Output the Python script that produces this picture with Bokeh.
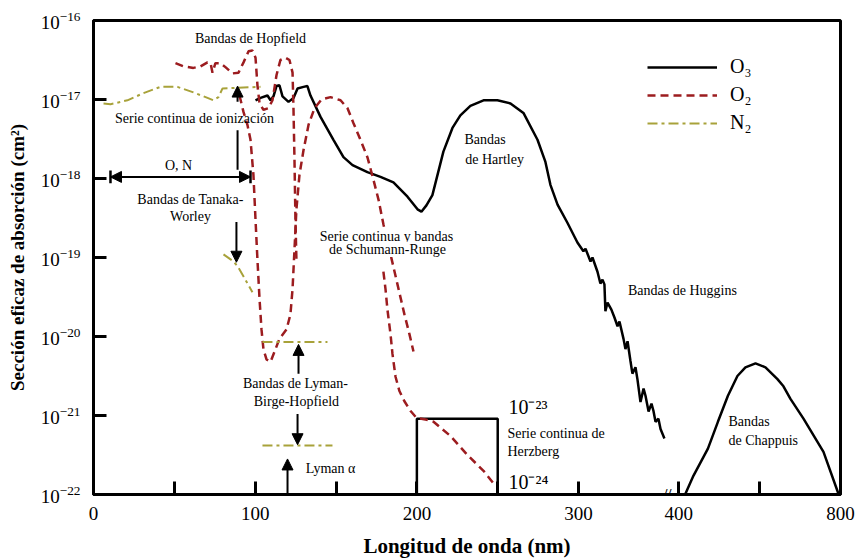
import numpy as np
from bokeh.plotting import figure
from bokeh.models import (FixedTicker, CustomJSTickFormatter, LogTickFormatter, Label, Arrow,
                          NormalHead, Legend, LegendItem)
from bokeh.embed import file_html
from bokeh.resources import INLINE

SERIF = "Liberation Serif"

# ---------------- data: wavelength (nm) and log10 of cross-section (cm^2) ----------------
o3_uv_nm = [100.2, 103.3, 107.6, 109.5, 111.3, 113.2, 115.0, 116.9, 120.6, 123.7, 126.2, 129.9,
            132.3, 134.2, 140.4, 148.4, 154.6, 160.2, 169.4, 177.5, 185.5, 194.2, 200.4, 202.8,
            205.9, 209.6, 216.4, 222.0, 226.9, 233.1, 241.2, 249.8, 257.9, 265.9, 274.6, 279.5,
            282.6, 287.0, 293.1, 299.3, 303.0, 304.3, 307.4, 308.6, 311.7, 313.5, 314.8, 316.0,
            316.6, 317.9, 320.3, 322.2, 324.1, 325.3, 327.8, 329.0, 330.3, 332.1, 333.3, 335.2,
            336.4, 338.3, 340.2, 341.4, 343.3, 345.1, 346.3, 347.6, 349.4, 350.7, 353.1]
o3_uv_log = [-17.01, -16.98, -16.95, -17.01, -16.96, -16.83, -16.82, -16.96, -17.03, -16.98, -16.86, -16.84,
             -16.83, -16.95, -17.22, -17.51, -17.73, -17.83, -17.92, -17.98, -18.05, -18.23, -18.39, -18.42,
             -18.34, -18.21, -17.66, -17.36, -17.20, -17.08, -17.01, -17.01, -17.05, -17.17, -17.51, -17.79,
             -18.08, -18.33, -18.56, -18.81, -18.92, -18.89, -19.05, -19.00, -19.18, -19.33, -19.28, -19.34,
             -19.68, -19.57, -19.66, -19.76, -19.87, -19.81, -20.03, -20.16, -20.06, -20.31, -20.47, -20.39,
             -20.54, -20.83, -20.66, -20.75, -20.95, -20.85, -20.94, -21.08, -21.04, -21.17, -21.29]
o3_vis_nm = [416.4, 436.4, 472.0, 496.7, 521.5, 545.0, 564.8, 589.7, 614.4, 644.0, 658.9, 676.2,
             708.4, 757.9, 794.9]
o3_vis_log = [-21.99, -21.76, -21.42, -21.08, -20.75, -20.50, -20.39, -20.34, -20.39, -20.54, -20.63, -20.79,
              -21.04, -21.46, -21.99]

o2_hopfield_nm = [50.7, 55.7, 61.8, 66.2, 70.5, 72.4, 73.6, 75.4, 78.5, 81.6, 86.0, 89.7, 92.8, 95.9,
                  98.3, 100.2, 101.4, 102.7, 105.1, 108.2, 110.7, 113.2, 115.6, 118.7, 121.2, 123.1,
                  123.7, 124.3, 124.9, 125.5]
o2_hopfield_log = [-16.54, -16.58, -16.60, -16.58, -16.53, -16.54, -16.66, -16.54, -16.54, -16.59, -16.67,
                   -16.66, -16.53, -16.39, -16.38, -16.47, -16.82, -17.05, -17.13, -17.11, -17.01, -16.69,
                   -16.50, -16.47, -16.50, -16.66, -17.13, -17.76, -18.52, -19.03]
o2_src_nm = [90.3, 92.8, 95.2, 97.1, 98.9, 100.2, 101.4, 102.7, 103.9, 105.1, 107.0, 109.5, 112.0, 115.0,
             119.4, 121.8, 123.1, 124.3, 125.5, 127.4, 129.9, 133.0, 136.7, 141.0, 146.6, 152.8, 157.1,
             160.8, 165.1, 169.4, 173.2, 176.3, 179.3, 183.7, 188.0, 192.3, 195.4, 197.9]
o2_src_log = [-16.95, -17.16, -17.32, -17.51, -17.95, -18.52, -19.03, -19.53, -19.91, -20.16, -20.29, -20.32,
              -20.19, -20.03, -19.91, -19.72, -19.40, -18.90, -18.39, -17.95, -17.64, -17.32, -17.11,
              -17.00, -16.97, -17.01, -17.11, -17.30, -17.51, -17.73, -18.02, -18.27, -18.58, -18.96,
              -19.34, -19.72, -19.97, -20.19]
o2_srb_nm = [179.3, 180.6, 181.8, 183.7, 184.9, 186.8, 189.2, 192.3, 196.0, 199.8, 205.3, 210.3, 220.8,
             231.3, 241.2, 248.6]
o2_srb_log = [-19.18, -19.40, -19.66, -19.97, -20.22, -20.51, -20.69, -20.82, -20.94, -21.03, -21.05,
              -21.08, -21.26, -21.50, -21.70, -21.89]

n2_ion_nm = [6.2, 10.5, 21.0, 30.9, 41.4, 51.9, 61.8, 70.5, 74.2, 77.3, 79.8, 103.3]
n2_ion_log = [-17.05, -17.06, -17.01, -16.92, -16.84, -16.84, -16.91, -16.98, -17.01, -16.97, -16.86, -16.84]
n2_tw_nm = [80.4, 86.6, 89.1, 92.8, 98.3]
n2_tw_log = [-18.96, -19.05, -19.11, -19.24, -19.44]
n2_lbh1_nm = [104.5, 144.7]
n2_lbh1_log = [-20.07, -20.07]
n2_lbh2_nm = [104.5, 147.8]
n2_lbh2_log = [-21.38, -21.38]

x_tick_nm = [0, 50, 100, 150, 200, 250, 300, 400, 600, 800]
x_tick_labels = ["0", "", "100", "", "200", "", "300", "400", "", "800"]
y_tick_exp = [-22, -21, -20, -19, -18, -17, -16]

herzberg_box_nm = [200, 250]
herzberg_box_log = [-22.0, -21.04]

ann_text = ["Bandas de Hopfield", "Serie continua de ionización", "O, N", "Bandas de Tanaka-", "Worley",
            "Serie continua y bandas", "de Schumann-Runge", "Bandas de Lyman-", "Birge-Hopfield",
            "Lyman α", "Bandas", "de Hartley", "Bandas de Huggins", "Serie continua de", "Herzberg",
            "Bandas", "de Chappuis"]
ann_nm = [97.1, 62.5, 52.6, 60.0, 60.0, 181.2, 181.8, 124.9, 125.5, 146.6, 229.4, 229.9, 409.0,
          256.0, 256.0, 522.8, 522.8]
ann_log = [-16.23, -17.24, -17.83, -18.27, -18.48, -18.74, -18.90, -20.60, -20.82, -21.67, -17.51,
           -17.76, -19.42, -21.23, -21.45, -21.08, -21.32]
ann_align = ["center", "center", "center", "center", "center", "center", "center", "center", "center",
             "center", "left", "left", "center", "left", "left", "left", "left"]

inset_text = ["10⁻²³", "10⁻²⁴"]
inset_nm = [256.6, 256.6]
inset_log = [-20.89, -21.84]

# arrows: (nm, log_start, log_end)
arrow_nm = [89.1, 88.4, 126.8, 126.2, 120.0]
arrow_log0 = [-17.03, -18.55, -20.47, -20.98, -22.0]
arrow_log1 = [-16.83, -19.06, -20.10, -21.37, -21.55]
ion_line_nm = 89.1
ion_line_log = [-17.89, -17.39]
on_arrow_nm = [10.5, 97.1]
on_arrow_log = -17.98
break_nm = 355


# ---------------- broken x-axis mapping ----------------
def to_u(nm):
    return nm if nm <= 380 else 362 + (nm - 400) / 4.0


def us(lst):
    return [to_u(v) for v in lst]


def sig(lst):
    return [10.0 ** v for v in lst]


p = figure(width=856, height=560, x_range=(0, 462), y_range=(1e-22, 1e-16),
           y_axis_type="log", output_backend="svg", toolbar_location=None,
           min_border_left=93, min_border_right=16, min_border_top=20, min_border_bottom=64)
p.grid.visible = False
p.outline_line_color = "black"
p.outline_line_width = 3
p.background_fill_color = "white"
p.border_fill_color = "white"

p.xaxis.ticker = FixedTicker(ticks=us(x_tick_nm), minor_ticks=[])
p.xaxis.formatter = CustomJSTickFormatter(
    args=dict(pos=us(x_tick_nm), labs=x_tick_labels),
    code="""
for (let i = 0; i < pos.length; i++) { if (Math.abs(tick - pos[i]) < 0.01) return labs[i]; }
return "";
""")
p.yaxis.ticker = FixedTicker(ticks=[10.0 ** e for e in y_tick_exp], minor_ticks=[])
p.yaxis.formatter = LogTickFormatter()
p.xaxis.axis_label = "Longitud de onda (nm)"
p.yaxis.axis_label = "Sección eficaz de absorción (cm²)"
for ax in (p.xaxis[0], p.yaxis[0]):
    ax.axis_line_width = 3
    ax.axis_line_color = "black"
    ax.major_tick_line_width = 3
    ax.major_tick_line_color = "black"
    ax.major_tick_in = 13
    ax.major_tick_out = 0
    ax.minor_tick_line_color = None
    ax.major_label_text_font = SERIF
    ax.major_label_text_font_size = "19px"
    ax.major_label_text_color = "black"
    ax.axis_label_text_font = SERIF
    ax.axis_label_text_font_style = "bold"
    ax.axis_label_text_color = "black"
p.xaxis.axis_label_text_font_size = "21px"
p.yaxis.axis_label_text_font_size = "19px"
p.xaxis.major_label_standoff = 12
p.xaxis.axis_label_standoff = 11
p.yaxis.major_label_standoff = 13
p.yaxis.axis_label_standoff = 10

O2_COLOR = "#9C1C1F"
N2_COLOR = "#A8A23A"

# Herzberg inset box
p.quad(left=[to_u(herzberg_box_nm[0])], right=[to_u(herzberg_box_nm[1])],
       bottom=[10 ** herzberg_box_log[0]], top=[10 ** herzberg_box_log[1]],
       fill_color=None, line_color="black", line_width=2.5)

o3 = p.multi_line(xs=[us(o3_uv_nm), us(o3_vis_nm)], ys=[sig(o3_uv_log), sig(o3_vis_log)],
                  line_color="black", line_width=2.5)
o2 = p.multi_line(xs=[us(o2_hopfield_nm), us(o2_src_nm), us(o2_srb_nm)],
                  ys=[sig(o2_hopfield_log), sig(o2_src_log), sig(o2_srb_log)],
                  line_color=O2_COLOR, line_width=2.5, line_dash="8 5")
n2 = p.multi_line(xs=[us(n2_ion_nm), us(n2_tw_nm), us(n2_lbh1_nm), us(n2_lbh2_nm)],
                  ys=[sig(n2_ion_log), sig(n2_tw_log), sig(n2_lbh1_log), sig(n2_lbh2_log)],
                  line_color=N2_COLOR, line_width=2, line_dash="10 4 3 4")

legend = Legend(items=[LegendItem(label="O₃", renderers=[o3]),
                       LegendItem(label="O₂", renderers=[o2]),
                       LegendItem(label="N₂", renderers=[n2])],
                location=(554, 360), orientation="vertical")
legend.border_line_color = None
legend.background_fill_alpha = 0
legend.padding = 0
legend.margin = 0
legend.spacing = 5
legend.glyph_width = 70
legend.glyph_height = 22
legend.label_height = 22
legend.label_standoff = 13
legend.label_text_font = SERIF
legend.label_text_font_size = "20px"
legend.label_text_color = "black"
p.add_layout(legend)

# annotations
for t, x, y, a in zip(ann_text, ann_nm, ann_log, ann_align):
    lab = Label(x=to_u(x), y=10 ** y, text=t, text_align=a, text_baseline="middle",
                text_font=SERIF, text_font_size="14px", text_color="black")
    if t in ("Serie continua y bandas", "de Schumann-Runge"):
        lab.background_fill_color = "white"
    p.add_layout(lab)
for t, x, y in zip(inset_text, inset_nm, inset_log):
    p.add_layout(Label(x=to_u(x), y=10 ** y, text=t, text_align="left", text_baseline="middle",
                       text_font=SERIF, text_font_size="20px", text_color="black"))

for x, y0, y1 in zip(arrow_nm, arrow_log0, arrow_log1):
    p.add_layout(Arrow(end=NormalHead(size=11, fill_color="black", line_color="black", line_width=1),
                       x_start=to_u(x), y_start=10 ** y0, x_end=to_u(x), y_end=10 ** y1,
                       line_width=2, line_color="black"))
p.segment(x0=[to_u(ion_line_nm)], y0=[10 ** ion_line_log[0]], x1=[to_u(ion_line_nm)],
          y1=[10 ** ion_line_log[1]], line_color="black", line_width=2)
p.add_layout(Arrow(start=NormalHead(size=11, fill_color="black", line_color="black", line_width=1),
                   end=NormalHead(size=11, fill_color="black", line_color="black", line_width=1),
                   x_start=to_u(on_arrow_nm[0]), y_start=10 ** on_arrow_log,
                   x_end=to_u(on_arrow_nm[1]), y_end=10 ** on_arrow_log,
                   line_width=2, line_color="black"))
p.segment(x0=us(on_arrow_nm), x1=us(on_arrow_nm),
          y0=[10 ** (on_arrow_log - 0.08)] * 2, y1=[10 ** (on_arrow_log + 0.08)] * 2,
          line_color="black", line_width=2.5)

# axis break mark
p.add_layout(Label(x=to_u(break_nm), y=1e-22, text="//", text_align="center", text_baseline="middle",
                   text_font=SERIF, text_font_size="14px", text_font_style="bold", text_color="black"))

open("out.html", "w").write(file_html(p, INLINE))
